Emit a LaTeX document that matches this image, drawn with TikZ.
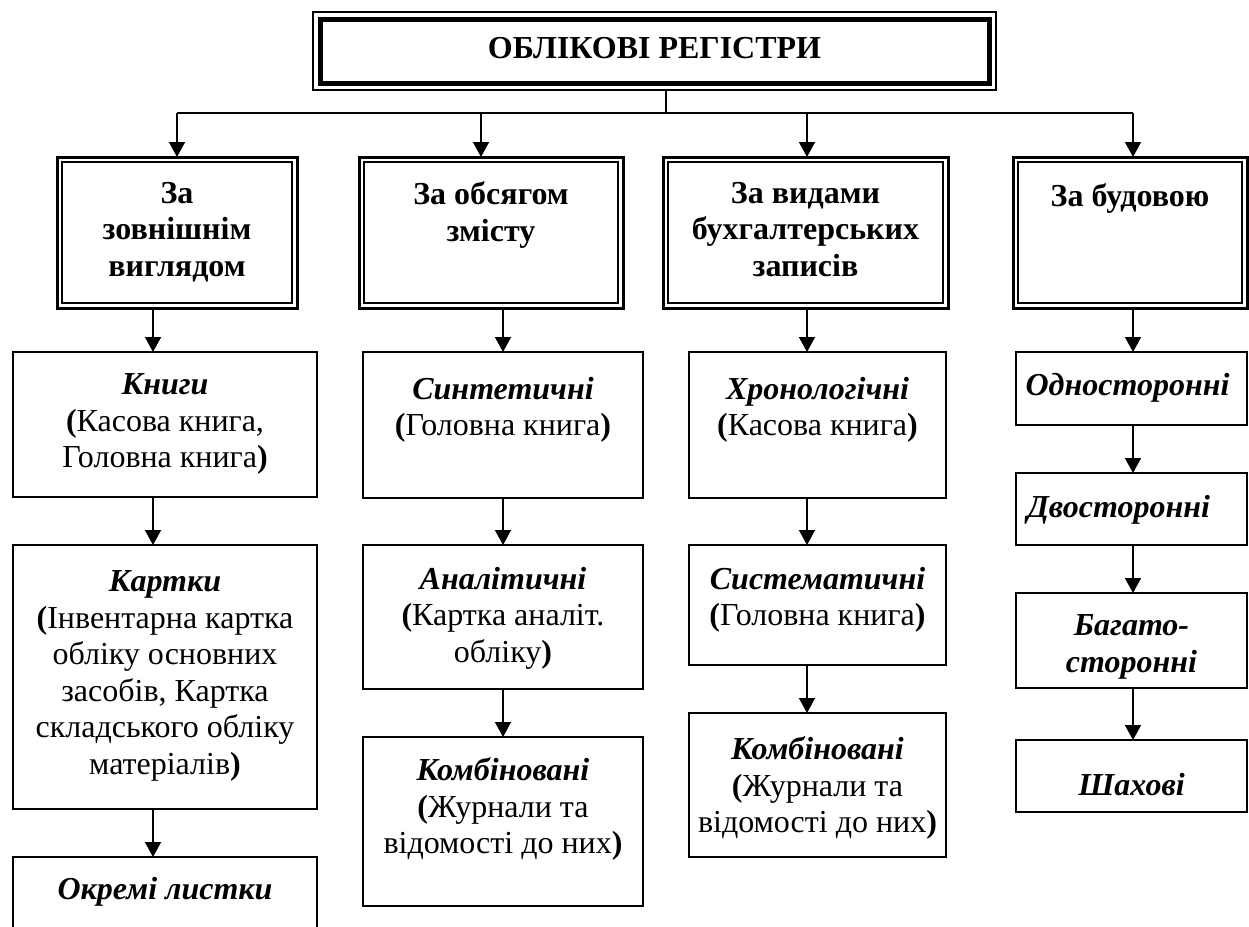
\documentclass[tikz,border=0pt]{standalone}
\usepackage{fontspec}
\setmainfont{Liberation Serif}
\usetikzlibrary{arrows.meta,calc}

\begin{document}
\begin{tikzpicture}[x=1pt,y=-1pt,
  every node/.style={inner sep=0pt, outer sep=0pt},
  plainbox/.style={draw, line width=1.6pt, anchor=north west, rectangle},
  groupbox/.style={draw, line width=3pt, anchor=north west, rectangle},
  innerline/.style={line width=1.3pt},
  txt/.style={align=center, anchor=north, font=\fontsize{32}{36.5}\selectfont},
  head/.style={txt, font=\fontsize{32}{36.5}\selectfont\bfseries},
  conn/.style={line width=1.6pt},
  arr/.style={conn, -{Triangle[width=16pt,length=15pt]}},
]
\useasboundingbox (0,0) rectangle (1249,926);
\clip (0,0) rectangle (1249,926);

% ---- title ----
\node[draw, line width=1.2pt, anchor=north west, minimum width=683pt, minimum height=78pt] (top) at (313,12) {};
\draw[line width=5pt] ([shift={(7,7)}]top.north west) rectangle ([shift={(-7,-7)}]top.south east);
\node[head, anchor=center] (toptxt) at ([yshift=2.5pt]top.center) {ОБЛІКОВІ РЕГІСТРИ};

% ---- classification groups ----
\node[groupbox, minimum width=240pt, minimum height=151pt] (b1) at (57,157) {};
\node[groupbox, minimum width=264pt, minimum height=151pt] (b2) at (359,157) {};
\node[groupbox, minimum width=285pt, minimum height=151pt] (b3) at (663,157) {};
\node[groupbox, minimum width=234pt, minimum height=151pt] (b4) at (1013,157) {};
\foreach \b in {b1,b2,b3,b4}
  \draw[innerline] ([shift={(5,5)}]\b.north west) rectangle ([shift={(-5,-5)}]\b.south east);

\node[head] (b1t) at ([yshift=-25pt]b1.north) {За\\зовнішнім\\виглядом};
\node[head] (b2t) at ([yshift=-25pt]b2.north) {За обсягом\\змісту};
\node[head] (b3t) at ([yshift=-25pt]b3.north) {За видами\\бухгалтерських\\записів};
\node[head] (b4t) at ([yshift=-27pt]b4.north) {За будовою};

% ---- column 1 ----
\node[plainbox, minimum width=304pt, minimum height=145pt] (k1) at (13,352) {};
\node[plainbox, minimum width=304pt, minimum height=264pt] (k2) at (13,545) {};
\node[plainbox, minimum width=304pt, minimum height=110pt] (k3) at (13,857) {};
\node[txt] (k1t) at ([yshift=-22pt]k1.north) {\textbf{\textit{Книги}}\\\textbf{(}Касова книга,\\Головна книга\textbf{)}};
\node[txt] (k2t) at ([yshift=-26pt]k2.north) {\textbf{\textit{Картки}}\\\textbf{(}Інвентарна картка\\обліку основних\\засобів, Картка\\складського обліку\\матеріалів\textbf{)}};
\node[txt] (k3t) at ([yshift=-20pt]k3.north) {\textbf{\textit{Окремі листки}}};

% ---- column 2 ----
\node[plainbox, minimum width=280pt, minimum height=146pt] (s1) at (363,352) {};
\node[plainbox, minimum width=280pt, minimum height=144pt] (s2) at (363,545) {};
\node[plainbox, minimum width=280pt, minimum height=169pt] (s3) at (363,737) {};
\node[txt] (s1t) at ([yshift=-25pt]s1.north) {\textbf{\textit{Синтетичні}}\\\textbf{(}Головна книга\textbf{)}};
\node[txt] (s2t) at ([yshift=-22pt]s2.north) {\textbf{\textit{Аналітичні}}\\\textbf{(}Картка аналіт.\\обліку\textbf{)}};
\node[txt] (s3t) at ([yshift=-21pt]s3.north) {\textbf{\textit{Комбіновані}}\\\textbf{(}Журнали та\\відомості до них\textbf{)}};

% ---- column 3 ----
\node[plainbox, minimum width=257pt, minimum height=146pt] (h1) at (689,352) {};
\node[plainbox, minimum width=257pt, minimum height=120pt] (h2) at (689,545) {};
\node[plainbox, minimum width=257pt, minimum height=144pt] (h3) at (689,713) {};
\node[txt] (h1t) at ([yshift=-25pt]h1.north) {\textbf{\textit{Хронологічні}}\\\textbf{(}Касова книга\textbf{)}};
\node[txt] (h2t) at ([yshift=-22pt]h2.north) {\textbf{\textit{Систематичні}}\\\textbf{(}Головна книга\textbf{)}};
\node[txt] (h3t) at ([yshift=-24pt]h3.north) {\textbf{\textit{Комбіновані}}\\\textbf{(}Журнали та\\відомості до них\textbf{)}};

% ---- column 4 ----
\node[plainbox, minimum width=231pt, minimum height=73pt] (o1) at (1016,352) {};
\node[plainbox, minimum width=231pt, minimum height=72pt] (o2) at (1016,473) {};
\node[plainbox, minimum width=231pt, minimum height=95pt] (o3) at (1016,593) {};
\node[plainbox, minimum width=231pt, minimum height=72pt] (o4) at (1016,740) {};
\node[txt] (o1t) at ([yshift=-21pt,xshift=-4pt]o1.north) {\textbf{\textit{Односторонні}}};
\node[txt] (o2t) at ([yshift=-22pt,xshift=-13pt]o2.north) {\textbf{\textit{Двосторонні}}};
\node[txt] (o3t) at ([yshift=-22pt]o3.north) {\textbf{\textit{Багато-}}\\\textbf{\textit{сторонні}}};
\node[txt] (o4t) at ([yshift=-33pt]o4.north) {\textbf{\textit{Шахові}}};

% ---- connectors ----
\coordinate (j) at (666,113);
\coordinate (c1) at (177,113);
\coordinate (c2) at (481,113);
\coordinate (c3) at (807,113);
\coordinate (c4) at (1133,113);
\coordinate (a1) at (153,0);
\coordinate (a2) at (503,0);
\coordinate (a3) at (807,0);
\coordinate (a4) at (1133,0);

\draw[conn] (top.south -| j) -- (j);
\draw[conn] (c1) -- (c4);
\draw[arr] (c1) -- (b1.north -| c1);
\draw[arr] (c2) -- (b2.north -| c2);
\draw[arr] (c3) -- (b3.north -| c3);
\draw[arr] (c4) -- (b4.north -| c4);

\draw[arr] (b1.south -| a1) -- (k1.north -| a1);
\draw[arr] (k1.south -| a1) -- (k2.north -| a1);
\draw[arr] (k2.south -| a1) -- (k3.north -| a1);

\draw[arr] (b2.south -| a2) -- (s1.north -| a2);
\draw[arr] (s1.south -| a2) -- (s2.north -| a2);
\draw[arr] (s2.south -| a2) -- (s3.north -| a2);

\draw[arr] (b3.south -| a3) -- (h1.north -| a3);
\draw[arr] (h1.south -| a3) -- (h2.north -| a3);
\draw[arr] (h2.south -| a3) -- (h3.north -| a3);

\draw[arr] (b4.south -| a4) -- (o1.north -| a4);
\draw[arr] (o1.south -| a4) -- (o2.north -| a4);
\draw[arr] (o2.south -| a4) -- (o3.north -| a4);
\draw[arr] (o3.south -| a4) -- (o4.north -| a4);
\end{tikzpicture}
\end{document}
